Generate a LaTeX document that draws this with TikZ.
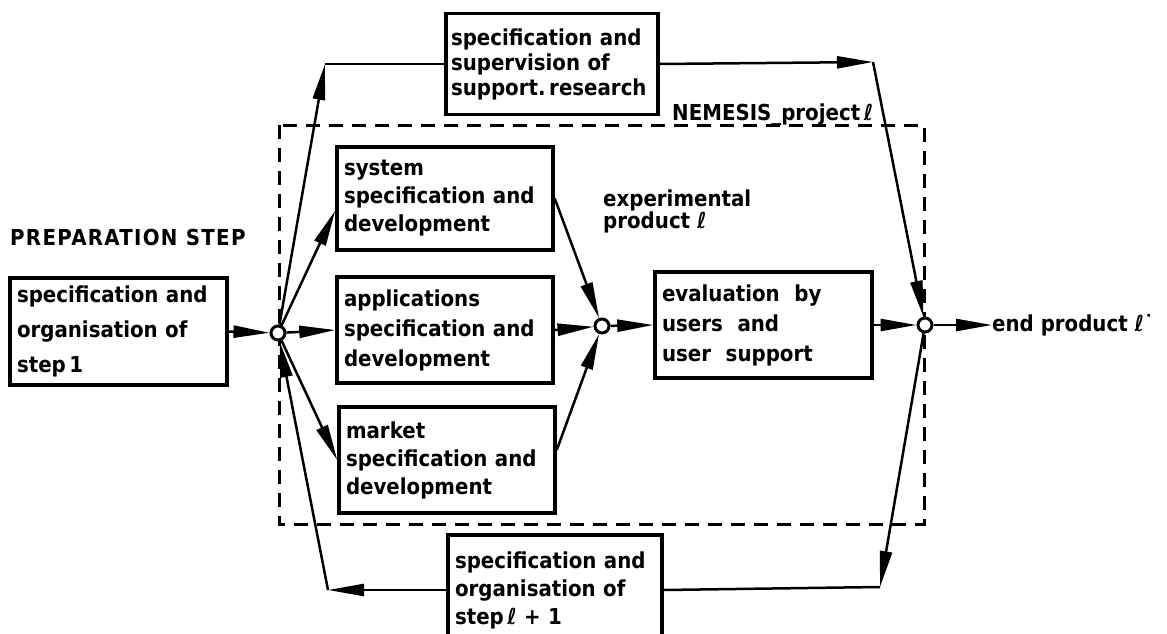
\documentclass[tikz,border=0pt]{standalone}
\usepackage{fontspec}
\setmainfont{DejaVu Sans Condensed}[BoldFont={DejaVu Sans Condensed Bold}]
\usetikzlibrary{arrows.meta}

\begin{document}
\begin{tikzpicture}[x=1pt,y=1pt,
  box/.style={draw, line width=3.5pt, inner xsep=7pt, inner ysep=3pt, align=left,
    font=\bfseries\fontsize{22}{28}\selectfont},
  junc/.style={circle, draw, line width=3pt, fill=white, minimum size=14pt, inner sep=0pt},
  arr/.style={line width=2.5pt, -{Triangle[length=36pt,width=12pt]}},
  lin/.style={line width=2.5pt},
  lbl/.style={inner sep=0pt, align=left, font=\bfseries\fontsize{22}{28}\selectfont}]
\useasboundingbox (0,0) rectangle (1167,-634);
% project frame
\draw [line width=3pt, dash pattern=on 14pt off 9pt] (279,-125) rectangle (924,-524);
\node [lbl, anchor=base west] (nemesis) at (672,-120) {NEMESIS\_project\,ℓ};
\node [lbl, anchor=base west, font=\bfseries\fontsize{22}{28}\selectfont\addfontfeatures{LetterSpace=6}] (prep) at (10,-245) {PREPARATION STEP};
\node [lbl, anchor=north west, font=\bfseries\fontsize{22}{22}\selectfont] (expp) at (603,-190) {experimental\\product ℓ};
% boxes
\node [box, minimum width=217pt, minimum height=107pt, text width=203pt,
  font=\bfseries\fontsize{22}{35}\selectfont] (step) at (118.5,-331.5)
  {specification and\\organisation of\\step\,1};
\node [box, minimum width=212pt, minimum height=101pt, inner xsep=5pt, text width=202pt,
  font=\bfseries\fontsize{22}{25}\selectfont] (supp) at (552,-64)
  {specification and\\supervision of\\\mbox{support.\,research}};
\node [box, minimum width=216pt, minimum height=103pt, text width=202pt] (sys) at (445,-198.5)
  {system\\specification and\\development};
\node [box, minimum width=216pt, minimum height=106pt, text width=202pt,
  font=\bfseries\fontsize{22}{30}\selectfont] (app) at (445,-330)
  {applications\\specification and\\development};
\node [box, minimum width=216pt, minimum height=106pt, text width=202pt] (mkt) at (447,-460)
  {market\\specification and\\development};
\node [box, minimum width=217pt, minimum height=106pt, text width=203pt,
  font=\bfseries\fontsize{22}{30}\selectfont] (eval) at (763.5,-325)
  {evaluation\ \ by\\users\ \ and\\user\ \ support};
\node [box, minimum width=214pt, minimum height=110pt, text width=200pt] (next) at (555,-590)
  {specification and\\organisation of\\step\,ℓ + 1};
% junctions
\node [junc] (jl) at (278,-333) {};
\node [junc] (jm) at (602,-326) {};
\node [junc] (jr) at (925,-325) {};
\node [lbl, anchor=west] (endp) at (992,-325) {end product ℓ˙};
\coordinate (c1) at (325,-64);
\coordinate (c2) at (873,-62);
\coordinate (c3) at (880,-587);
\coordinate (c4) at (328,-590);
% connectors
\draw [arr] (step.east) -- (jl);
\draw [arr] (jl) -- (app.west);
\draw [arr] (jl) -- ([yshift=-12pt]sys.west);
\draw [arr] (jl) -- (mkt.west);
\draw [arr] (jl) -- (c1);
\draw [lin] (c1) -- (supp.west);
\draw [arr] (supp.east) -- (c2);
\draw [arr] (c2) -- (jr);
\draw [arr] (sys.east) -- (jm);
\draw [arr] (app.east) -- (jm);
\draw [arr] ([yshift=10pt]mkt.east) -- (jm);
\draw [arr] (jm) -- (eval.west);
\draw [arr] (eval.east) -- (jr);
\draw [arr] (jr) -- (endp.west);
\draw [arr] (jr) -- (c3);
\draw [lin] (c3) -- (next.east);
\draw [arr] (next.west) -- (c4);
\draw [arr] (c4) -- (jl);
\end{tikzpicture}
\end{document}
